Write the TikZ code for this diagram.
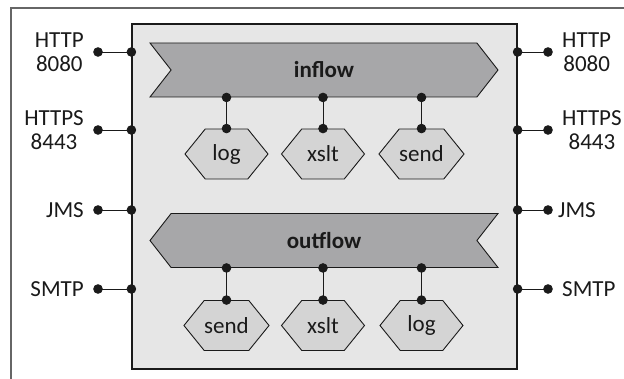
\documentclass[tikz,border=0pt]{standalone}
\usepackage{fontspec}
\setmainfont{Carlito}
\usetikzlibrary{shapes.symbols,positioning,arrows.meta}
\definecolor{FrameGray}{HTML}{666666}
\definecolor{BoxFill}{HTML}{E6E6E6}
\definecolor{FlowFill}{HTML}{A7A7A9}
\definecolor{StepFill}{HTML}{D4D4D4}
\definecolor{InkBlack}{HTML}{1A1A1A}

\tikzset{
  flow/.style={signal, draw=InkBlack, fill=FlowFill, line width=0.9pt,
    minimum width=348pt, minimum height=54pt, signal pointer angle=104,
    inner sep=0pt, font=\fontsize{23}{24}\selectfont\bfseries},
  stepnode/.style={signal, signal to=east and west, draw=InkBlack, fill=StepFill,
    line width=0.9pt, minimum width=83pt, minimum height=50pt,
    signal pointer angle=102, inner sep=0pt},
  port/.style={InkBlack, line width=0.9pt, {Circle[length=9.5pt]}-{Circle[length=9.5pt]},
    shorten <=-4.75pt, shorten >=-4.75pt},
  portlabel/.style={align=center, inner sep=2pt},
}

\begin{document}
\begin{tikzpicture}[x=1pt,y=-1pt, every node/.style={font=\fontsize{23}{24}\selectfont, text=InkBlack}]
  \useasboundingbox (0,0) rectangle (624,379);
  \draw[FrameGray, line width=1.6pt] (11,379) -- (11,8) -- (624,8);
  \node[draw=InkBlack, fill=BoxFill, line width=1.2pt, minimum width=385pt, minimum height=345pt] (engine) at (324.5,196.5) {};

  \node[flow, signal to=east, signal from=west] (inflow) at (324,70) {inflow};
  \node[flow, signal to=west, signal from=east] (outflow) at (324,240.5) {outflow};

  \node[stepnode] (inLog) at (226.5,154) {log};
  \node[stepnode] (inXslt) at (323,154) {xslt};
  \node[stepnode] (inSend) at (421.5,154) {send};
  \node[stepnode] (outSend) at (226.5,325.5) {send};
  \node[stepnode] (outXslt) at (323,325.5) {xslt};
  \node[stepnode] (outLog) at (421.5,325.5) {log};
  \foreach \s in {inLog,inXslt,inSend}
    \draw[port] (\s.north) -- (\s.north |- inflow.south);
  \foreach \s in {outSend,outXslt,outLog}
    \draw[port] (\s.north) -- (\s.north |- outflow.south);

  \coordinate (httpL) at (98,52);
  \coordinate (httpsL) at (98,130);
  \coordinate (jmsL) at (98,210);
  \coordinate (smtpL) at (98,289);
  \coordinate (httpR) at (548,52);
  \coordinate (httpsR) at (548,130);
  \coordinate (jmsR) at (548,210);
  \coordinate (smtpR) at (548,289);
  \foreach \p in {httpL,httpsL,jmsL,smtpL}
    \draw[port] (\p) -- (\p -| engine.west);
  \foreach \p in {httpR,httpsR,jmsR,smtpR}
    \draw[port] (\p -| engine.east) -- (\p);

  \node[portlabel, left=12pt of httpL] (httpLtext) {HTTP\\8080};
  \node[portlabel, left=12pt of httpsL] (httpsLtext) {HTTPS\\8443};
  \node[portlabel, left=12pt of jmsL] (jmsLtext) {JMS};
  \node[portlabel, left=12pt of smtpL] (smtpLtext) {SMTP};
  \node[portlabel, right=12pt of httpR] (httpRtext) {HTTP\\8080};
  \node[portlabel, right=12pt of httpsR] (httpsRtext) {HTTPS\\8443};
  \node[portlabel, right=8pt of jmsR] (jmsRtext) {JMS};
  \node[portlabel, right=12pt of smtpR] (smtpRtext) {SMTP};
\end{tikzpicture}
\end{document}
